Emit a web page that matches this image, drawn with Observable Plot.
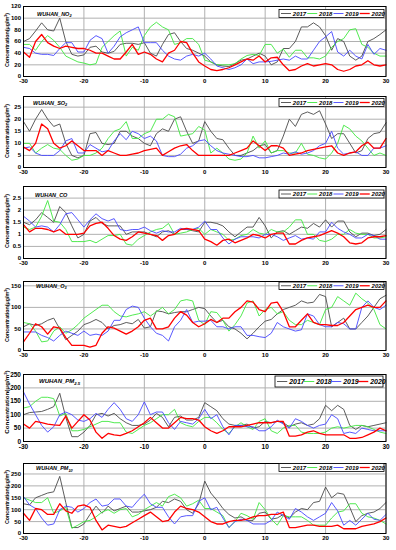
<!DOCTYPE html>
<html><head><meta charset="utf-8">
<script src="https://cdn.jsdelivr.net/npm/d3@7"></script>
<script src="https://cdn.jsdelivr.net/npm/@observablehq/plot@0.6"></script>
<style>
body{margin:0;background:#fff;font-family:"Liberation Sans",Arial,sans-serif;}
#root{position:relative;width:396px;height:550px;overflow:hidden;background:#fff;}
#root > svg{position:absolute;left:0;}
</style></head>
<body><div id="root"></div>
<script>
const days = d3.range(-30, 31);
const years = ["2017", "2018", "2019", "2020"];
const xTicks = [-30, -20, -10, 0, 10, 20, 30];

const no2_2017 = [60,65,78,92,80,78,100,60,38,35,37,50,52,42,40,43,55,57,57,55,58,40,35,55,72,75,60,48,45,40,35,25,20,18,17,22,28,30,35,40,35,20,25,48,48,60,85,85,92,85,70,45,65,60,35,28,35,60,65,72,80];
const no2_2018 = [55,55,45,60,70,62,50,35,30,25,23,20,22,50,60,70,78,35,50,45,70,85,93,85,80,55,58,65,65,55,28,25,20,20,20,22,30,36,38,36,55,55,40,47,33,45,45,32,32,30,35,50,60,65,80,82,55,50,40,35,35];
const no2_2019 = [50,48,40,38,38,36,48,58,58,42,42,62,70,65,40,52,68,75,80,85,58,58,58,45,35,30,28,35,38,35,40,30,18,15,12,15,20,30,22,25,25,26,28,30,28,35,30,30,45,60,68,77,42,35,45,35,30,55,38,48,45];
const no2_2020 = [42,33,60,72,58,52,48,52,50,48,48,45,40,40,35,30,30,42,55,38,42,38,30,25,40,45,60,58,40,25,18,12,10,12,15,20,25,30,28,35,25,32,33,20,10,12,18,22,18,20,22,20,12,9,12,18,20,27,20,18,20];

const so2_2017 = [19,15,20,24,20,17,18,10,5,4,5,14,14.5,10,9.5,10,15,15,13,12,10,9,14,16,15,20,21,15,10,11,19,15,12,11.5,8,5,5,6,7,9,9.5,6,7,13,20,17,22,23,22,23.5,18,12,14,14,10,6,7,12,14,14.5,18.5];
const so2_2018 = [10,10,6,8,9.5,8,7.5,5,3,3.5,5,5,6,8,12,15,16,19,12,12,14,15,20,20,22,21,13,13.5,14,17,15.5,6,8,6,3.5,3,3.5,6,13,8,11,6,7,7,6,6,10,5.5,5,4,3.5,6,10,17.5,16,13,11,8,5,6,5];
const so2_2019 = [8,8.5,6,5,5,5,7,11,12,6,6,9.5,8,6.5,7,11,14,11.5,15,14,12,13,11,5,4.5,4.5,5.5,8,9,11,11.5,9,7,6,5.5,5,4.5,4.5,5,4,4,4.5,5,6,5.5,6.5,5.5,6,7,9,10,15,8,5.5,6,6.5,5,5,8,8,9];
const so2_2020 = [8.5,7,10,18,16,10,8,9,11,9,7,7,7,5,7,6,5,5,5.5,6,7,7.5,8,5,6.5,8,9,9.5,7,5,5,5,5,5,5,6,7,8,11,9,7,9,9,8,5,5.5,6,7,7.5,8,8.5,9,6,5,6,6.5,9,10.5,8,8,12];

const co_2017 = [1.5,1.4,1.6,1.9,1.7,1.5,2.15,1.9,1.35,0.85,1.0,1.55,1.7,1.45,1.35,1.35,1.35,1.0,1.1,1.1,1.1,1.0,0.9,1.1,1.15,1.0,1.2,1.2,1.15,1.1,1.5,1.5,1.45,1.35,1.1,0.9,1.1,1.3,1.3,1.7,1.35,0.85,1.1,1.15,1.0,1.15,1.3,1.25,1.45,1.3,1.6,1.3,1.55,1.55,1.1,0.9,1.05,1.05,0.95,1.0,1.2];
const co_2018 = [1.3,1.2,1.3,1.75,2.4,1.55,1.5,1.2,0.7,0.7,0.7,0.75,0.65,0.8,0.95,0.95,1.0,0.6,0.55,0.8,0.95,1.1,1.2,1.25,1.45,1.0,1.05,1.1,1.2,1.25,1.0,1.2,1.1,1.0,0.75,0.8,0.95,1.0,1.2,1.05,1.0,1.2,1.1,1.1,1.3,1.6,1.6,1.0,1.0,0.75,0.7,0.8,1.0,1.0,1.2,1.05,1.0,1.0,0.85,0.85,0.9];
const co_2019 = [1.75,1.55,1.3,1.35,1.3,1.1,1.4,1.85,1.9,1.6,1.3,1.6,1.85,1.65,1.55,1.65,1.2,1.15,1.2,1.2,1.3,1.15,1.05,1.15,1.1,1.1,1.25,1.2,1.2,1.3,1.55,1.2,1.2,0.85,0.6,0.8,0.9,0.9,0.9,0.85,1.0,1.0,0.9,0.75,0.85,0.95,0.8,0.85,0.8,1.1,1.1,1.5,1.25,1.1,1.0,0.85,0.85,1.0,0.95,0.8,0.8];
const co_2020 = [1.4,1.1,1.25,1.25,1.2,1.1,1.2,1.0,1.0,1.0,1.05,1.35,1.45,1.5,1.25,0.95,0.8,0.75,0.9,1.1,1.05,1.0,0.95,0.75,0.95,1.0,1.2,1.25,1.2,1.15,0.8,0.7,0.55,0.75,0.8,0.65,0.75,0.85,1.0,0.95,0.85,1.0,1.05,1.05,0.6,0.6,0.75,0.85,0.9,0.95,1.05,1.15,1.05,0.9,0.65,0.6,0.65,0.85,0.9,0.9,0.95];

const o3_2017 = [55,62,58,62,70,75,50,25,35,45,60,65,72,65,50,58,60,65,62,72,52,55,92,90,85,88,90,90,95,100,97,80,65,70,55,50,40,27,40,55,68,72,85,95,100,105,115,110,112,130,125,55,65,75,50,50,65,80,100,120,128];
const o3_2018 = [65,62,45,20,22,45,55,40,48,60,75,85,95,105,105,90,80,78,82,85,90,80,90,100,85,95,115,118,115,70,60,90,88,70,45,60,80,110,115,80,95,100,85,90,70,60,60,70,65,60,95,100,125,115,105,133,120,110,95,60,50];
const o3_2019 = [43,43,43,35,30,22,35,45,40,35,45,35,38,35,45,70,70,95,103,100,75,55,40,35,22,55,70,95,65,68,68,70,55,55,50,55,55,35,35,32,30,40,65,55,50,45,48,85,80,60,55,55,65,62,50,50,100,115,100,95,105];
const o3_2020 = [20,40,62,55,38,55,52,30,12,12,12,8,12,40,55,52,45,38,45,55,70,75,50,50,55,75,90,82,65,55,62,72,65,75,75,90,100,115,112,95,90,110,112,90,55,55,70,85,65,60,60,58,58,65,80,95,100,105,100,100,115];

const pm25_2017 = [100,108,110,112,120,130,180,90,18,18,35,60,100,105,95,105,85,70,60,60,65,80,105,90,55,90,95,80,80,90,145,130,115,85,65,60,60,65,50,55,75,70,75,70,55,65,70,60,65,85,135,115,135,120,60,45,60,55,60,65,70];
const pm25_2018 = [125,130,150,165,165,160,95,105,40,40,45,55,65,75,75,70,70,35,30,45,60,70,85,100,100,120,70,60,55,75,90,90,70,45,30,55,70,55,45,75,85,40,30,50,60,60,35,30,30,30,35,50,55,50,55,60,60,55,45,35,30];
const pm25_2019 = [185,140,100,60,35,55,100,110,100,80,75,85,105,90,120,145,120,85,75,100,148,100,110,110,70,45,75,70,65,85,120,85,100,55,25,60,60,55,55,40,40,55,80,65,50,85,75,60,50,60,65,100,85,30,35,30,50,45,40,40,40];
const pm25_2020 = [65,50,75,70,65,62,60,95,50,75,100,80,35,12,30,25,22,30,40,55,70,90,70,50,50,70,90,85,85,80,55,40,30,40,55,55,55,60,65,70,70,70,75,75,20,20,25,35,40,30,25,25,25,25,12,12,15,25,35,50,40];

const pm10_2017 = [125,120,150,160,170,175,240,130,25,25,40,80,115,85,115,95,105,115,90,90,95,100,110,135,130,145,135,100,85,125,220,170,140,105,80,65,70,55,55,85,90,60,65,80,65,90,105,100,130,135,195,150,170,165,110,50,75,85,90,105,130];
const pm10_2018 = [150,140,130,130,150,85,95,110,22,35,50,55,70,90,100,85,100,105,70,80,100,115,130,115,155,165,150,115,125,140,105,105,90,75,25,50,85,75,60,130,100,60,35,75,70,70,70,55,35,35,35,65,90,95,125,125,85,70,65,55,40];
const pm10_2019 = [155,120,105,65,35,40,100,115,110,90,105,130,145,115,120,145,145,115,110,140,165,125,110,110,70,40,70,75,75,135,150,100,110,65,25,50,60,55,40,40,40,55,90,75,60,105,90,70,55,70,85,130,95,35,55,35,60,85,60,55,80];
const pm10_2020 = [85,55,105,100,80,80,125,95,85,115,120,110,55,15,35,30,25,30,45,60,75,90,70,50,55,90,115,105,100,90,70,50,40,40,50,55,55,60,70,75,75,80,80,90,25,25,30,35,35,30,30,30,35,20,20,20,30,35,40,50,65];

const colors = {"2017": "#4a4a4a", "2018": "#3ee83e", "2019": "#4646ff", "2020": "#ff0000"};
const widths = {"2017": 0.9, "2018": 0.9, "2019": 0.9, "2020": 1.3};

const panels = [
  {name: "WUHAN_NO", sub: "2", series: [no2_2017, no2_2018, no2_2019, no2_2020], ymax: 120, yticks: [0,20,40,60,80,100,120], top: 6, bottom: 76,
   legend: {x: 279, y: 9.5, w: 105, h: 8, fs: 6}, title: {x: 37, y: 15.5, fs: 5.5}, yfs: 5.3, ymid: 40, tfs: 6},
  {name: "WUHAN_SO", sub: "2", series: [so2_2017, so2_2018, so2_2019, so2_2020], ymax: 29.4, yticks: [0,5,10,15,20,25], top: 96, bottom: 167,
   legend: {x: 279, y: 98.5, w: 105, h: 8, fs: 6}, title: {x: 33, y: 104.7, fs: 5.5}, yfs: 5.3, ymid: 131, tfs: 6},
  {name: "WUHAN_CO", sub: "", series: [co_2017, co_2018, co_2019, co_2020], ymax: 2.98, yticks: [0,0.5,1,1.5,2,2.5], top: 186, bottom: 258,
   legend: {x: 279, y: 190, w: 105, h: 8, fs: 6}, title: {x: 35, y: 197, fs: 5.5}, yfs: 5.3, ymid: 221, tfs: 6},
  {name: "WUHAN_O", sub: "3", series: [o3_2017, o3_2018, o3_2019, o3_2020], ymax: 160, yticks: [0,50,100,150], top: 281, bottom: 350,
   legend: {x: 279, y: 282, w: 105, h: 7.5, fs: 6}, title: {x: 36, y: 287.7, fs: 5.5}, yfs: 5.3, ymid: 315, tfs: 6},
  {name: "WUHAN_PM", sub: "2.5", series: [pm25_2017, pm25_2018, pm25_2019, pm25_2020], ymax: 250, yticks: [0,50,100,150,200,250], top: 374, bottom: 441,
   legend: {x: 275, y: 376, w: 108, h: 11, fs: 7}, title: {x: 39, y: 383, fs: 6}, yfs: 6.2, ymid: 402, tfs: 6.5},
  {name: "WUHAN_PM", sub: "10", series: [pm10_2017, pm10_2018, pm10_2019, pm10_2020], ymax: 294, yticks: [0,50,100,150,200,250], top: 463, bottom: 533,
   legend: {x: 279, y: 463.5, w: 105, h: 8, fs: 6}, title: {x: 36, y: 470, fs: 5.5}, yfs: 5.3, ymid: 497, tfs: 6}
];

const root = document.getElementById("root");
const font = "Liberation Sans, Arial, sans-serif";
const mt = 3, mb = 12;

for (const p of panels) {
  const rows = [];
  p.series.forEach((vals, i) => vals.forEach((v, j) => rows.push({day: days[j], value: v, year: years[i]})));
  const chart = Plot.plot({
    width: 396,
    height: p.bottom - p.top + mt + mb,
    marginLeft: 23, marginRight: 10.5, marginTop: mt, marginBottom: mb,
    style: {fontFamily: font, fontSize: p.tfs + "px", fontWeight: "bold", color: "#000", background: "transparent", overflow: "visible"},
    x: {domain: [-30, 30]},
    y: {domain: [0, p.ymax]},
    marks: [
      Plot.gridX(xTicks, {stroke: "#b0b0b0", strokeOpacity: 1, strokeWidth: 1}),
      Plot.gridY(p.yticks, {stroke: "#b0b0b0", strokeOpacity: 1, strokeWidth: 1}),
      Plot.axisX(xTicks, {tickSize: 0, tickPadding: 2.5, tickFormat: d => String(d), label: null}),
      Plot.axisY(p.yticks, {tickSize: 0, tickPadding: 2.5, tickFormat: d => String(d), label: null}),
      ...years.map(yr => Plot.lineY(rows.filter(r => r.year === yr), {x: "day", y: "value", stroke: colors[yr], strokeWidth: widths[yr]})),
      Plot.frame({stroke: "#000", strokeWidth: 1})
    ]
  });
  chart.style.top = (p.top - mt) + "px";
  root.appendChild(chart);
}

// overlay for titles, legends and axis labels
const ov = d3.select(root).append("svg")
  .attr("width", 396).attr("height", 550)
  .style("position", "absolute").style("left", "0px").style("top", "0px")
  .style("font-family", font);

for (const p of panels) {
  const t = ov.append("text").attr("x", p.title.x).attr("y", p.title.y)
    .attr("font-size", p.title.fs).attr("font-weight", "bold").attr("font-style", "italic").text(p.name);
  if (p.sub) t.append("tspan").attr("dy", 1.6).attr("font-size", p.title.fs * 0.7).text(p.sub);
  const yl = ov.append("text").attr("transform", `translate(${p.yfs > 6 ? 9 : 8.5},${p.ymid}) rotate(-90)`)
    .attr("text-anchor", "middle").attr("font-size", p.yfs).attr("font-weight", "bold")
    .text("Concentration(μg/m");
  yl.append("tspan").attr("dy", -p.yfs * 0.35).attr("font-size", p.yfs * 0.7).text("3");
  yl.append("tspan").attr("dy", p.yfs * 0.35).text(")");
  const L = p.legend;
  ov.append("rect").attr("x", L.x).attr("y", L.y).attr("width", L.w).attr("height", L.h)
    .attr("fill", "#fff").attr("stroke", "#000").attr("stroke-width", 0.8);
  const step = L.w / 4;
  years.forEach((yr, i) => {
    const x0 = L.x + 2 + i * step;
    const cy = L.y + L.h / 2;
    ov.append("line").attr("x1", x0).attr("x2", x0 + step * 0.38).attr("y1", cy).attr("y2", cy)
      .attr("stroke", colors[yr]).attr("stroke-width", widths[yr]);
    ov.append("text").attr("x", x0 + step * 0.45).attr("y", cy).attr("dy", "0.36em")
      .attr("font-size", L.fs).attr("font-weight", "bold").attr("font-style", "italic").text(yr);
  });
}
</script>
</body></html>
